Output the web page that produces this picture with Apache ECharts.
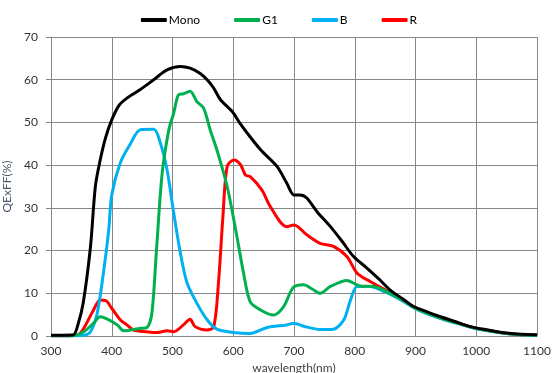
<!DOCTYPE html>
<html><head><meta charset="utf-8">
<script src="https://cdn.jsdelivr.net/npm/echarts@6/dist/echarts.min.js"></script>
<style>html,body{margin:0;padding:0;background:#fff}#c{width:558px;height:373px}</style>
</head><body><div id="c"></div>
<script>
const xTicks = [300,400,500,600,700,800,900,1000,1100];
const seriesNames = ['Mono','G1','B','R'];

const monoX = [300,320,337,345,353,365,373,381,390,400,412,425,447,469,491,513,529,545,557,568,579,598,610,623,645,672,688,700,710,721,738,760,780,798,820,840,858,880,897,920,941,965,990,1020,1050,1075,1100];
const monoY = [0.2,0.2,0.3,3,7.7,20.9,35,41.2,46.5,50.6,54,55.7,57.7,60,62.3,63.1,62.7,61.5,60,58,55.3,52.6,50,47.5,43.6,39.7,35.8,33,33,32.3,29.1,25.6,22,18.6,15.9,13.3,10.8,8.6,6.9,5.6,4.5,3.4,2.2,1.4,0.7,0.4,0.3];

const g1X = [300,320,340,354,370,381,392,409,420,447,458,466,474,483,494,502,510,518,529,540,551,562,573,590,606,617,628,645,666,683,699,716,730,743,760,787,809,831,858,880,900,925,950,975,1000,1050,1100];
const g1Y = [0.1,0.1,0.2,1,3,4.5,4.0,2.6,1.2,1.8,2.0,5.3,20.9,38.1,48.3,52.2,56.5,56.7,57.3,54.9,53.4,48.3,43.6,35,23.3,14.7,8,6.1,4.9,6.9,11.4,12,11,10,11.6,13,11.7,11.6,10,8.3,6.5,5,3.8,2.8,1.8,0.6,0.1];

const bX = [300,330,355,365,376,387,395,400,414,430,447,469,480,491,502,513,524,540,557,573,601,628,656,688,700,716,743,765,782,793,804,825,850,880,900,925,950,975,1000,1050,1100];
const bY = [0,0,0.2,1,5.3,15.5,24.8,33,40.5,44.8,48.3,48.4,45.2,38.9,28.8,19.4,12.4,7.7,3.8,1.6,0.8,0.6,2,2.6,3,2.3,1.5,1.6,3.8,8.4,11.6,11.6,10.3,8.1,6.4,4.9,3.7,2.7,1.7,0.6,0.1];

const rX = [300,330,345,354,370,381,390,400,414,425,436,458,474,491,502,518,529,537,557,568,576,583,590,601,612,620,628,647,661,688,700,721,743,765,787,804,826,858,880,900,925,950,975,1000,1050,1100];
const rY = [0,0,0.3,1.8,6.1,8.4,8.3,6.5,3.8,2.6,1.4,1,0.8,1.2,1,2.6,3.9,2.2,1.4,2.2,13.1,28,39.7,41.2,40.1,37.7,37.3,34.2,30.3,25.6,26,23.7,21.7,21,18.6,14.7,12.7,10.2,8.3,6.5,5,3.8,2.8,1.8,0.6,0.1];

const colors = ['#000000','#00B050','#00B0F0','#FF0000'];
const xs = [monoX,g1X,bX,rX];
const ys = [monoY,g1Y,bY,rY];

const chart = echarts.init(document.getElementById('c'));
const font = 'Lato, "Noto Sans", sans-serif';
chart.setOption({
  animation:false,
  textStyle:{fontFamily:font},
  legend:{
    top:9, left:'center', itemWidth:26, itemHeight:4, itemGap:34,
    textStyle:{fontSize:12,color:'#000',fontFamily:font,padding:[0,0,0,-3]},
    data:seriesNames.map((n,i)=>({name:n,icon:'roundRect',itemStyle:{color:colors[i]}}))
  },
  grid:{left:51,right:21,top:37,bottom:37,containLabel:false,outerBoundsMode:'none'},
  xAxis:{
    type:'value',min:300,max:1100,interval:100,
    name:'wavelength(nm)',nameLocation:'middle',nameGap:22,
    nameTextStyle:{fontSize:12,color:'#404040',fontFamily:font},
    axisLine:{lineStyle:{color:'#868686',width:1}},
    axisTick:{show:false},
    axisLabel:{fontSize:12,color:'#333',margin:9,fontFamily:font,formatter:v=>String(v)},
    splitLine:{show:true,lineStyle:{color:'#868686',width:1}}
  },
  yAxis:{
    type:'value',min:0,max:70,interval:10,
    name:'QExFF(%)',nameLocation:'middle',nameGap:36,nameRotate:90,
    nameTextStyle:{fontSize:12,color:'#4a5a6a',fontFamily:font},
    axisLine:{show:true,lineStyle:{color:'#868686',width:1}},
    axisTick:{show:true,length:5,lineStyle:{color:'#868686'}},
    axisLabel:{fontSize:12,color:'#333',margin:13,fontFamily:font},
    splitLine:{show:true,lineStyle:{color:'#868686',width:1}}
  },
  series:seriesNames.map((n,i)=>({
    name:n,type:'line',smooth:0.3,symbol:'none',
    lineStyle:{color:colors[i],width:3},
    itemStyle:{color:colors[i]},
    data:xs[i].map((x,j)=>[x,ys[i][j]])
  })).reverse()
});
</script></body></html>
